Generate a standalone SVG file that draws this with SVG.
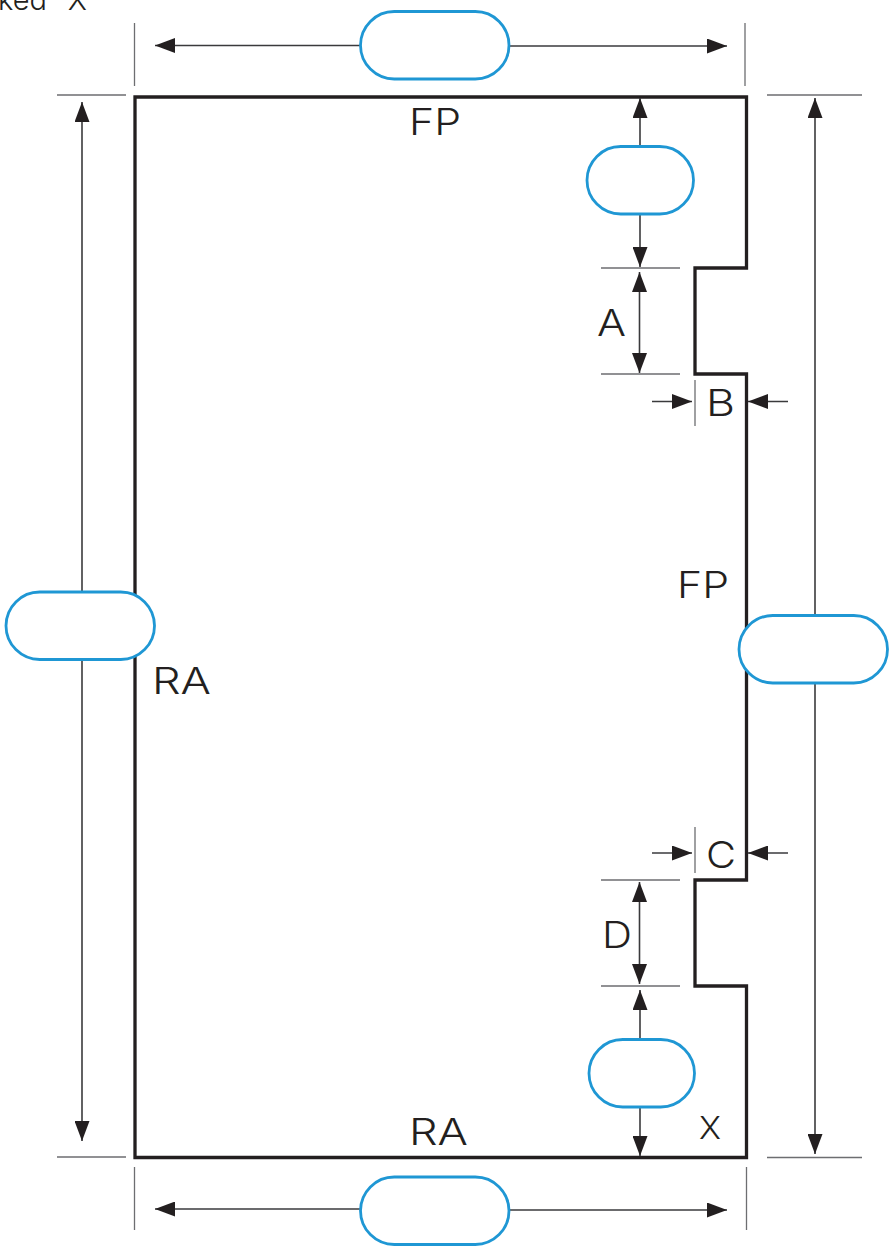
<svg xmlns="http://www.w3.org/2000/svg" width="891" height="1248" viewBox="0 0 891 1248">
<style>
text{font-family:"Inter","Liberation Sans",sans-serif;font-weight:300;font-size:37px;fill:#231f20}
.ext{stroke:#6d6e71;stroke-width:1.3;fill:none}
.dim{stroke:#3a3a3c;stroke-width:1.6;fill:none}
.pill{fill:#fff;stroke:#1f97d4;stroke-width:2.8}
.ah{fill:#231f20}
</style>
<defs>
<marker id="a" viewBox="0 0 20 15" refX="20" refY="7.5" markerWidth="20" markerHeight="15" markerUnits="userSpaceOnUse" orient="auto-start-reverse"><path class="ah" d="M0 0L20 7.5L0 15Z"/></marker>
</defs>
<rect width="891" height="1248" fill="#fff"/>
<text x="-2" y="9.500" style="font-size:29px">ked "X"</text>
<g id="outline"><path d="M135 97H746.500V268H695V374H746.500V880H695V986H746.500V1157.500H135Z" fill="none" stroke="#231f20" stroke-width="3.3"/></g>
<g id="connectors">
<path class="ext" d="M134.500 23V86M745 23V86M57 95H126M767 95H862M57 1157H126M767 1157.500H862M134.500 1167V1230M746.500 1167V1230M601 268H680M601 374H680M601 880H680M601 986H680M695 380V426M695 827V873"/>
<path class="dim" marker-start="url(#a)" d="M155 45.500H360"/><path class="dim" marker-end="url(#a)" d="M510 46H727"/>
<path class="dim" marker-start="url(#a)" d="M155 1209H360"/><path class="dim" marker-end="url(#a)" d="M510 1210H727"/>
<path class="dim" marker-start="url(#a)" d="M82 102V592"/><path class="dim" marker-end="url(#a)" d="M82 660V1141"/>
<path class="dim" marker-start="url(#a)" d="M815 98V615"/><path class="dim" marker-end="url(#a)" d="M815 683V1154"/>
<path class="dim" marker-start="url(#a)" d="M640 98V146"/><path class="dim" marker-end="url(#a)" d="M640 214V267"/>
<path class="dim" marker-start="url(#a)" marker-end="url(#a)" d="M639.500 272V373"/>
<path class="dim" marker-start="url(#a)" marker-end="url(#a)" d="M639.500 882V984"/>
<path class="dim" marker-start="url(#a)" d="M640 990V1039"/><path class="dim" marker-end="url(#a)" d="M640 1107V1156"/>
<path class="dim" marker-end="url(#a)" d="M652 401.500H692"/><path class="dim" marker-start="url(#a)" d="M748 401.500H788"/>
<path class="dim" marker-end="url(#a)" d="M652 853H692"/><path class="dim" marker-start="url(#a)" d="M748 853H788"/>
</g>
<g id="pill-top"><rect class="pill" x="360.500" y="11.500" width="148.500" height="67.500" rx="33.750"/></g>
<g id="pill-bottom"><rect class="pill" x="360.500" y="1177" width="148.500" height="67.500" rx="33.750"/></g>
<g id="pill-left"><rect class="pill" x="6" y="592" width="148.500" height="67.500" rx="33.750"/></g>
<g id="pill-right"><rect class="pill" x="739" y="615.500" width="148.500" height="67.500" rx="33.750"/></g>
<g id="pill-upper"><rect class="pill" x="587" y="146.500" width="106.500" height="67.500" rx="33.750"/></g>
<g id="pill-lower"><rect class="pill" x="589" y="1039.500" width="105.500" height="67.500" rx="33.750"/></g>
<g id="labels">
<text x="409" y="135" textLength="52" lengthAdjust="spacingAndGlyphs">FP</text>
<text x="597" y="336" textLength="29" lengthAdjust="spacingAndGlyphs">A</text>
<text x="706" y="416" textLength="29" lengthAdjust="spacingAndGlyphs">B</text>
<text x="677" y="598" textLength="52" lengthAdjust="spacingAndGlyphs">FP</text>
<text x="152" y="694" textLength="59" lengthAdjust="spacingAndGlyphs">RA</text>
<text x="706" y="868" textLength="30" lengthAdjust="spacingAndGlyphs">C</text>
<text x="602" y="948" textLength="30" lengthAdjust="spacingAndGlyphs">D</text>
<text x="409" y="1145" textLength="59" lengthAdjust="spacingAndGlyphs">RA</text>
<text x="699" y="1139" style="font-size:31px" textLength="22" lengthAdjust="spacingAndGlyphs">X</text>
</g>
</svg>
